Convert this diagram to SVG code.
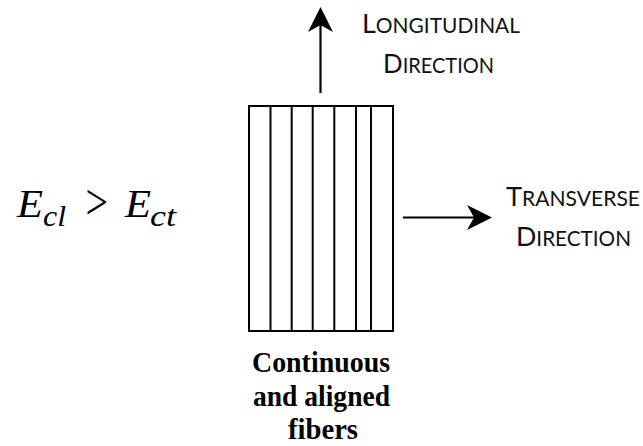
<svg xmlns="http://www.w3.org/2000/svg" width="643" height="446" viewBox="0 0 643 446">
<defs>
<style>
.ln{stroke:#000;stroke-width:2;fill:none}
.arr{stroke:#000;stroke-width:2.2;fill:none;marker-end:url(#head)}
.lbl{font-family:Lato,"Open Sans","Liberation Sans",sans-serif;fill:#111}
.big{font-size:26.5px}
.sc{font-size:20.5px}
.cap{font-family:"Liberation Serif","Times New Roman",serif;font-weight:bold;font-size:30px;fill:#000;text-anchor:middle}
.math{font-family:"Liberation Serif","DejaVu Serif",serif;font-style:italic;fill:#000}
</style>
<marker id="head" markerUnits="userSpaceOnUse" viewBox="0 0 25 25" refX="17" refY="12.5" markerWidth="25" markerHeight="25" orient="auto">
<path d="M0,0 L25,12.5 L0,25 L7,12.5 Z" fill="#000"/>
</marker>
</defs>
<rect width="643" height="446" fill="#fff"/>

<g id="formula">
<text class="math" x="17" y="217" font-size="41" textLength="26" lengthAdjust="spacingAndGlyphs">E</text>
<text class="math" x="43" y="226" font-size="30" textLength="23" lengthAdjust="spacingAndGlyphs">cl</text>
<text class="math" x="83" y="219" font-size="50" font-style="normal" textLength="27" lengthAdjust="spacingAndGlyphs">&gt;</text>
<text class="math" x="125" y="217" font-size="41" textLength="26" lengthAdjust="spacingAndGlyphs">E</text>
<text class="math" x="150" y="226" font-size="30" textLength="26" lengthAdjust="spacingAndGlyphs">ct</text>
</g>

<g id="fiber-box">
<rect class="ln" x="249" y="106" width="144" height="225"/>
<line class="ln" x1="270.5" y1="106" x2="270.5" y2="331"/>
<line class="ln" x1="291.7" y1="106" x2="291.7" y2="331"/>
<line class="ln" x1="312.7" y1="106" x2="312.7" y2="331"/>
<line class="ln" x1="334.3" y1="106" x2="334.3" y2="331"/>
<line class="ln" x1="356" y1="106" x2="356" y2="331"/>
<line class="ln" x1="371" y1="106" x2="371" y2="331"/>
</g>

<g id="connectors">
<line id="arrow-longitudinal" class="arr" x1="320.5" y1="93" x2="320.5" y2="15"/>
<line id="arrow-transverse" class="arr" x1="403" y1="217.5" x2="484" y2="217.5"/>
</g>

<g id="label-longitudinal">
<text class="lbl" x="362" y="33" textLength="158" lengthAdjust="spacingAndGlyphs"><tspan class="big">L</tspan><tspan class="sc">ONGITUDINAL</tspan></text>
<text class="lbl" x="383" y="73" textLength="111" lengthAdjust="spacingAndGlyphs"><tspan class="big">D</tspan><tspan class="sc">IRECTION</tspan></text>
</g>

<g id="label-transverse">
<text class="lbl" x="506" y="206" textLength="134" lengthAdjust="spacingAndGlyphs"><tspan class="big">T</tspan><tspan class="sc">RANSVERSE</tspan></text>
<text class="lbl" x="516" y="246" textLength="115" lengthAdjust="spacingAndGlyphs"><tspan class="big">D</tspan><tspan class="sc">IRECTION</tspan></text>
</g>

<g id="caption">
<text class="cap" x="321" y="372" textLength="138" lengthAdjust="spacingAndGlyphs">Continuous</text>
<text class="cap" x="321.5" y="406" textLength="137" lengthAdjust="spacingAndGlyphs">and aligned</text>
<text class="cap" x="323" y="439" textLength="70" lengthAdjust="spacingAndGlyphs">fibers</text>
</g>
</svg>
